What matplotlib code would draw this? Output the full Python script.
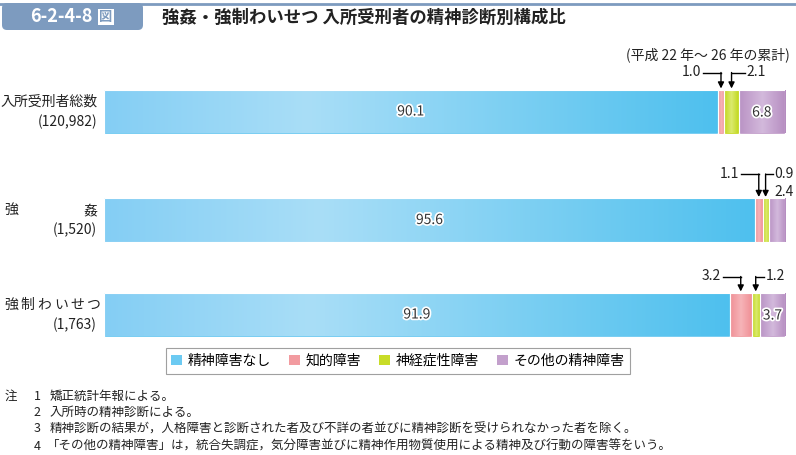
import numpy as np
import matplotlib
matplotlib.use("Agg")
from matplotlib import pyplot as plt
from matplotlib.colors import LinearSegmentedColormap
from matplotlib.patches import Patch, FancyBboxPatch
import matplotlib.patheffects as pe

plt.rcParams['font.family'] = ['Noto Sans CJK JP', 'DejaVu Sans']

# data (percent)
groups = ["入所受刑者総数", "強姦", "強制わいせつ"]
counts = ["(120,982)", "(1,520)", "(1,763)"]
cats = ["精神障害なし", "知的障害", "神経症性障害", "その他の精神障害"]
none_vals = [90.1, 95.6, 91.9]
intel_vals = [1.0, 1.1, 3.2]
neuro_vals = [2.1, 0.9, 1.2]
other_vals = [6.8, 2.4, 3.7]
series = [none_vals, intel_vals, neuro_vals, other_vals]

notes = ["矯正統計年報による。",
         "入所時の精神診断による。",
         "精神診断の結果が，人格障害と診断された者及び不詳の者並びに精神診断を受けられなかった者を除く。",
         "「その他の精神障害」は，統合失調症，気分障害並びに精神作用物質使用による精神及び行動の障害等をいう。"]

# styles
base_cols = ["#6ccaf2", "#f29ba0", "#c8dc28", "#c3a0cc"]
grads = [(["#84cef4", "#a9def7", "#4ec0ee"], [0, 0.33, 1]),
         (["#f08f95", "#f6b4b8", "#f08f95"], [0, 0.5, 1]),
         (["#c0d81a", "#dbea6e", "#c0d81a"], [0, 0.5, 1]),
         (["#b992c4", "#d3b9dc", "#b58cc0"], [0, 0.5, 1])]
bar_y = [111.5, 220, 314.5]
bar_h = 44
title_blue = "#7d9bbf"
px = 681 / 100.0  # pixels per percent

fig = plt.figure(figsize=(7.96, 4.55), dpi=100)
bg = fig.add_axes([0, 0, 1, 1])
bg.set_xlim(0, 796)
bg.set_ylim(455, 0)
bg.axis("off")

ax = fig.add_axes([104 / 796, 0, 681 / 796, 1])
ax.set_xlim(0, 100)
ax.set_ylim(455, 0)
ax.axis("off")

# bars with gradient fill
lefts = np.zeros(3)
g = np.linspace(0, 1, 256).reshape(1, -1)
for i, vals in enumerate(series):
    bars = ax.barh(bar_y, vals, left=lefts, height=bar_h, color=base_cols[i],
                   edgecolor="white", linewidth=0.8, zorder=2)
    cols, stops = grads[i]
    cmap = LinearSegmentedColormap.from_list("g%d" % i, list(zip(stops, cols)))
    for b, l, v, y in zip(bars, lefts, vals, bar_y):
        im = ax.imshow(g, cmap=cmap, aspect="auto", interpolation="bilinear",
                       extent=(l, l + v, y + bar_h / 2, y - bar_h / 2), zorder=2.5)
        im.set_clip_path(b)
    ax.barh(bar_y, vals, left=lefts, height=bar_h, facecolor="none",
            edgecolor="white", linewidth=0.8, zorder=3)
    lefts = lefts + np.array(vals)
ax.set_xlim(0, 100)
ax.set_ylim(455, 0)

halo = [pe.withStroke(linewidth=2.5, foreground="white")]
# big labels
for j in range(3):
    ax.text(none_vals[j] / 2, bar_y[j], f"{none_vals[j]:.1f}", ha="center", va="center",
            fontsize=10, color="#333333", path_effects=halo, zorder=5)
for j in (0, 2):
    x = 100 - other_vals[j] / 2
    ax.text(x, bar_y[j] + 1, f"{other_vals[j]:.1f}", ha="center", va="center",
            fontsize=10, color="#333333", path_effects=halo, zorder=5)

# arrow callouts for narrow segments
line_dy = [17, 24, 16]
right_len = [13, 7, 8]
for j in range(3):
    top = bar_y[j] - bar_h / 2
    ly = top - line_dy[j]
    # intellectual (left side)
    xa = none_vals[j] + intel_vals[j] / 2
    ax.plot([xa - 18 / px, xa], [ly, ly], color="black", lw=1, clip_on=False, zorder=6)
    ax.annotate("", xy=(xa, top - 1), xytext=(xa, ly),
                arrowprops=dict(arrowstyle="-|>", color="black", lw=1,
                                shrinkA=0, shrinkB=0, mutation_scale=9), zorder=6)
    ax.text(xa - 20 / px, ly, f"{intel_vals[j]:.1f}", ha="right", va="center",
            fontsize=10, color="#222222")
    # neurotic (right side)
    xb = none_vals[j] + intel_vals[j] + neuro_vals[j] / 2
    ax.plot([xb, xb + right_len[j] / px], [ly, ly], color="black", lw=1, clip_on=False, zorder=6)
    ax.annotate("", xy=(xb, top - 1), xytext=(xb, ly),
                arrowprops=dict(arrowstyle="-|>", color="black", lw=1,
                                shrinkA=0, shrinkB=0, mutation_scale=9), zorder=6)
    ax.text(xb + (right_len[j] + 2) / px, ly, f"{neuro_vals[j]:.1f}", ha="left", va="center",
            fontsize=10, color="#222222")
    if j == 1:
        ax.text(xb + (right_len[j] + 2) / px, top - 6, f"{other_vals[j]:.1f}", ha="left",
                va="center", fontsize=10, color="#222222")

# category labels
lab_kw = dict(fontsize=10, color="#222222", va="center")
bg.text(98, bar_y[0] - 10, groups[0], ha="right", **lab_kw)
bg.text(4, bar_y[1] - 10, groups[1][0], ha="left", **lab_kw)
bg.text(97, bar_y[1] - 10, groups[1][1], ha="right", **lab_kw)
for k, ch in enumerate(groups[2]):
    bg.text(11 + k * 16.6, bar_y[2] - 10, ch, ha="center", **lab_kw)
for j in range(3):
    bg.text(97, bar_y[j] + 10, counts[j], ha="right", **lab_kw)

bg.text(790, 55, "(平成 22 年～ 26 年の累計)", ha="right", va="center", fontsize=10, color="#222222")

# legend
handles = [Patch(facecolor=c, edgecolor="none") for c in base_cols]
leg = bg.legend(handles, cats, loc="center", bbox_to_anchor=(398, 361),
                bbox_transform=bg.transData, ncol=4, frameon=True, fancybox=False,
                fontsize=10, handlelength=0.8, handleheight=0.8, handletextpad=0.4,
                columnspacing=1.3, borderpad=0.4)
leg.get_frame().set_edgecolor("#888888")
leg.get_frame().set_linewidth(0.8)

# title
bg.plot([0, 796], [3.5, 3.5], color=title_blue, lw=2)
bg.add_patch(FancyBboxPatch((2, 3), 141, 27, boxstyle="round,pad=0,rounding_size=5",
                            facecolor=title_blue, edgecolor="none"))
bg.text(61, 17, "6-2-4-8", ha="center", va="center", fontsize=13, fontweight="bold", color="white")
bg.text(106, 17, "図", ha="center", va="center", fontsize=9.5, color=title_blue, fontweight="bold",
        bbox=dict(facecolor="white", edgecolor="none", pad=0.8))
bg.text(162, 18, "強姦・強制わいせつ 入所受刑者の精神診断別構成比", ha="left", va="center",
        fontsize=12.5, fontweight="bold", color="#222222")

# notes
note_y = [396, 412, 429, 446]
bg.text(5, note_y[0], "注", ha="left", va="center", fontsize=9, color="#222222")
for k, (t, y) in enumerate(zip(notes, note_y)):
    bg.text(37, y, str(k + 1), ha="center", va="center", fontsize=9, color="#222222")
    bg.text(50 if k < 3 else 47, y, t, ha="left", va="center", fontsize=9, color="#222222")

plt.savefig("out.png", dpi=100)
